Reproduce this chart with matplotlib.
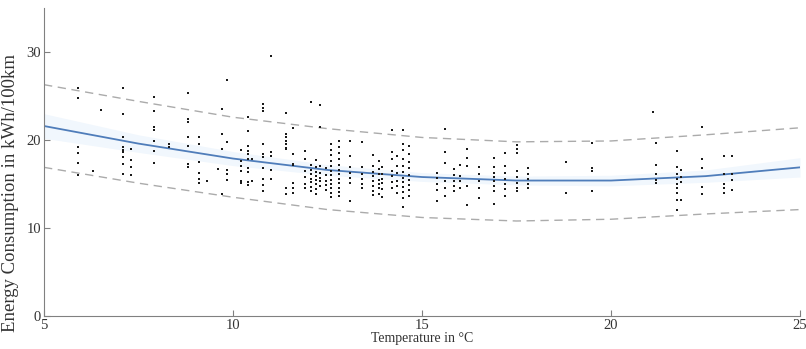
import matplotlib.pyplot as plt

# measured points, grouped by temperature column
temps = [5.9, 6.3, 6.5, 7.1, 7.3, 7.9, 8.3, 8.8, 9.1, 9.3, 9.6, 9.7, 9.85,
         10.2, 10.4, 10.5, 10.8, 11.0, 11.4, 11.6, 11.9, 12.05, 12.2, 12.3,
         12.45, 12.6, 12.8, 13.1, 13.4, 13.7, 13.85, 13.95, 14.2, 14.35,
         14.5, 14.65, 15.4, 15.6, 15.85, 16.0, 16.2, 16.5, 16.9, 17.2, 17.5,
         17.8, 18.8, 19.5, 21.1, 21.2, 21.75, 21.85, 22.4, 23.0, 23.2]

consumption = [
    [25.9, 24.8, 19.2, 18.5, 17.4, 16.0],
    [16.5],
    [23.4],
    [25.9, 23.0, 20.3, 19.2, 18.9, 18.7, 18.1, 17.3, 16.2],
    [19.0, 17.7, 16.9, 16.0],
    [24.9, 23.3, 21.5, 21.1, 19.9, 18.8, 17.4],
    [19.5, 19.2],
    [25.3, 22.4, 22.0, 20.3, 19.3, 17.3, 16.9],
    [20.3, 19.6, 17.5, 16.3, 15.6, 15.1],
    [15.3],
    [16.7],
    [23.5, 20.7, 19.0, 13.9],
    [26.8, 19.8, 16.6, 16.2, 15.5],
    [18.9, 17.6, 17.0, 16.5, 15.3, 15.1],
    [22.6, 21.0, 19.3, 18.8, 18.4, 17.9, 16.8, 16.4, 15.2, 14.9],
    [17.8, 15.3],
    [24.1, 23.6, 23.3, 19.5, 18.4, 18.1, 16.8, 15.6, 14.9, 14.2],
    [29.6, 18.6, 18.2, 16.6, 15.6],
    [23.1, 20.7, 20.3, 19.9, 19.6, 19.1, 19.0, 14.5, 13.9],
    [21.4, 18.4, 17.3, 17.2, 15.1, 14.5, 14.0],
    [18.8, 17.9, 16.5, 15.8, 15.0, 14.6],
    [24.3, 17.2, 16.6, 16.1, 15.6, 15.2, 14.7, 14.2],
    [17.7, 16.9, 16.4, 15.9, 15.5, 15.0, 14.4, 13.9],
    [24.0, 21.5, 17.0, 16.3, 15.7, 15.3, 14.8],
    [16.8, 16.0, 15.4, 14.9, 14.3],
    [19.6, 18.9, 18.3, 17.6, 17.0, 16.5, 16.0, 15.5, 15.0, 14.5, 14.0, 13.5],
    [19.9, 19.2, 18.5, 17.8, 17.2, 16.6, 16.1, 15.6, 15.1, 14.6, 14.1, 13.6],
    [19.9, 18.2, 16.9, 16.3, 15.7, 15.1, 13.1],
    [19.8, 16.9, 16.2, 15.6, 15.0, 14.6],
    [18.3, 17.0, 16.4, 15.9, 15.3, 14.8, 14.2, 13.7],
    [17.6, 16.7, 16.1, 15.5, 15.0, 14.5, 13.9],
    [16.9, 16.2, 15.6, 15.1, 14.4, 13.5],
    [21.1, 18.7, 17.8, 16.5, 15.9, 15.2, 14.6],
    [18.2, 17.1, 16.3, 15.4, 14.8, 14.0],
    [21.1, 19.6, 18.9, 17.9, 17.0, 16.4, 15.7, 15.2, 14.7, 14.1, 13.4, 12.4],
    [19.3, 18.4, 17.5, 16.8, 16.0, 15.5, 14.9, 14.3, 13.6],
    [16.3, 15.7, 15.0, 14.3, 13.1],
    [21.3, 18.6, 17.4, 15.3, 14.6, 13.6],
    [16.7, 16.0, 15.4, 14.8, 14.2],
    [17.2, 15.9, 15.3, 14.6],
    [19.0, 18.0, 17.1, 14.8, 12.6],
    [16.9, 16.1, 15.4, 14.6, 13.4],
    [18.0, 16.9, 16.3, 15.8, 15.3, 14.8, 14.2, 12.7],
    [18.5, 17.0, 16.3, 15.6, 15.0, 14.4, 13.6],
    [19.4, 19.0, 18.5, 16.5, 15.8, 15.1, 14.6, 14.2],
    [16.8, 16.2, 15.6, 15.0, 14.5],
    [17.5, 14.0],
    [19.7, 16.8, 16.5, 14.2],
    [23.2],
    [19.7, 17.2, 16.2, 15.5, 15.1],
    [18.8, 16.9, 16.2, 15.6, 15.0, 14.5, 14.0, 13.2, 12.1],
    [16.6, 15.8, 15.2, 13.2],
    [21.5, 17.9, 16.8, 14.7, 13.9],
    [18.2, 16.2, 15.0, 14.6, 14.0],
    [18.2, 16.2, 15.5, 14.3],
]

# regression curve and prediction bounds, read at these temperatures
curve_t = [5, 7.5, 10, 12.5, 15, 17.5, 20, 22.5, 25]
fit = [21.6, 19.6, 17.9, 16.6, 15.8, 15.4, 15.4, 15.9, 16.9]
upper = [26.3, 24.4, 22.6, 21.3, 20.3, 19.8, 19.9, 20.6, 21.4]
lower = [16.9, 15.1, 13.5, 12.1, 11.2, 10.8, 11.0, 11.6, 12.1]
band_hi = [23.0, 20.6, 18.7, 17.2, 16.3, 15.9, 16.0, 16.6, 18.0]
band_lo = [20.2, 18.6, 17.1, 16.0, 15.3, 14.9, 14.8, 15.2, 15.8]

plt.rcParams['font.family'] = 'Liberation Serif'

fig = plt.figure(figsize=(8.06, 3.49), dpi=100)
ax = fig.add_axes([0.0546, 0.0946, 0.938, 0.882])

ax.fill_between(curve_t, band_lo, band_hi, color='#f1f7fd', lw=0)
ax.plot(curve_t, upper, color='#ababab', lw=1.0, ls=(0, (6, 4)))
ax.plot(curve_t, lower, color='#ababab', lw=1.0, ls=(0, (6, 4)))
ax.plot(curve_t, fit, color='#4f7dba', lw=1.3)

for t, ys in zip(temps, consumption):
    ax.plot([t] * len(ys), ys, 's', color='#1a1a1a', ms=1.9, mew=0)

ax.set_xlim(5, 25)
ax.set_ylim(0, 35)
ax.set_xticks([5, 10, 15, 20, 25])
ax.set_yticks([0, 10, 20, 30])
ax.spines['top'].set_visible(False)
ax.spines['right'].set_visible(False)
for s in ['left', 'bottom']:
    ax.spines[s].set_color('#808080')
ax.tick_params(direction='in', length=4, color='#808080', labelsize=10.5,
               labelcolor='#333333', pad=2)
ax.set_xlabel('Temperature in °C', fontsize=10, color='#333333', labelpad=0)
ax.set_ylabel('Energy Consumption in kWh/100km', fontsize=13.5, color='#333333')
ax.yaxis.set_label_coords(-0.033, 0.40)

fig.savefig('out.png', dpi=100)
